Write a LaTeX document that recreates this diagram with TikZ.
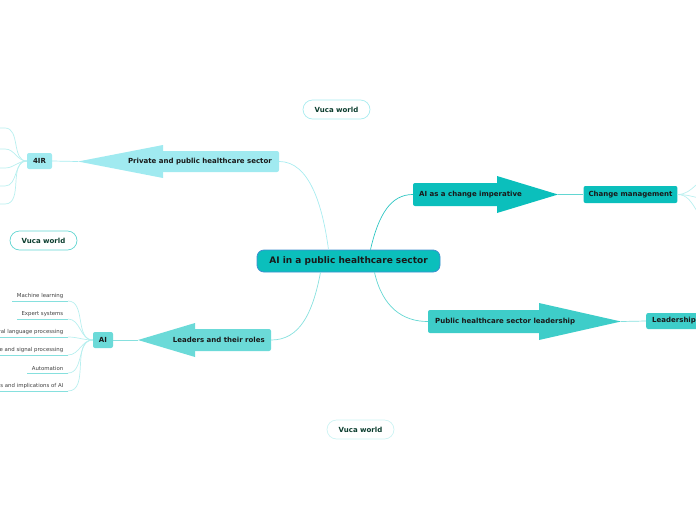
\documentclass[tikz,border=0pt]{standalone}
\usepackage{fontspec}
\setmainfont{DejaVu Sans}
\usetikzlibrary{positioning}

\definecolor{rootfill}{HTML}{0BBFBC}
\definecolor{rootline}{HTML}{3D8FD0}
\definecolor{privfill}{HTML}{A0EAF0}
\definecolor{chgfill}{HTML}{0BBFBC}
\definecolor{pubfill}{HTML}{3ECDC9}
\definecolor{leadfill}{HTML}{6BDAD8}
\definecolor{privline}{HTML}{A8ECF0}
\definecolor{chgline}{HTML}{2EC6C3}
\definecolor{publine}{HTML}{62D6D2}
\definecolor{leadline}{HTML}{86E0DE}
\definecolor{leafline}{HTML}{B8EFEF}
\definecolor{vucatext}{HTML}{0B3D2E}

\begin{document}
\begin{tikzpicture}[x=1pt, y=-1pt,
  topic/.style={draw=rootline, line width=0.8pt, fill=rootfill, rounded corners=7pt, minimum width=183pt, minimum height=22pt, font=\fontsize{9}{10}\selectfont\bfseries, text=black!90},
  abody/.style={rounded corners=2pt, inner sep=0pt},
  atext/.style={inner sep=0pt, font=\fontsize{7}{8}\selectfont\bfseries, text=black!90},
  sbox/.style={rounded corners=2pt, minimum height=16pt, inner xsep=5pt, font=\fontsize{7}{8}\selectfont\bfseries, text=black!90},
  leaf/.style={inner xsep=4.5pt, inner ysep=2pt, anchor=south east, font=\fontsize{5.4}{6.4}\selectfont, text=black!75},
  uline/.style={draw=leadline, line width=0.7pt},
  vuca/.style={draw, line width=0.7pt, fill=white, rounded corners=9.5pt, minimum width=67pt, minimum height=19pt, font=\fontsize{7}{8}\selectfont\bfseries, text=vucatext},
  link/.style={line width=0.7pt}
]
\useasboundingbox (0,0) rectangle (696,520);
\clip (0,0) rectangle (696,520);

% central topic
\node[topic] (root) at (348.5,261) {AI in a public healthcare sector};

% floating topics
\node[vuca, draw=privline] (vuca1) at (336.5,109.5) {Vuca world};
\node[vuca, draw=publine] (vuca2) at (43.5,240.5) {Vuca world};
\node[vuca, draw=leafline!70] (vuca3) at (360.5,429.5) {Vuca world};

% private and public healthcare sector (left arrow)
\node[abody, fill=privfill, minimum width=139pt, minimum height=21pt] (privb) at (209.5,161.5) {};
\coordinate (privt) at (78,161.5);
\fill[privfill] (163,145) -- (163,178) -- (privt) -- cycle;
\node[atext, anchor=east] (priv) at (272,161.5) {Private and public healthcare sector};
\node[sbox, fill=privfill, minimum width=25pt] (fir) at (39.5,161) {4IR};

% AI as a change imperative (right arrow)
\node[abody, fill=chgfill, minimum width=102pt, minimum height=23pt] (chgb) at (464,194.5) {};
\coordinate (chgt) at (558,194.5);
\fill[chgfill] (497,176) -- (497,213) -- (chgt) -- cycle;
\node[atext, anchor=west] (chg) at (419,194.5) {AI as a change imperative};
\node[sbox, fill=chgfill, minimum width=93pt, minimum height=17pt] (cm) at (630.5,194.5) {Change management};

% public healthcare sector leadership (right arrow)
\node[abody, fill=pubfill, minimum width=137pt, minimum height=23pt] (pubb) at (496.5,321.5) {};
\coordinate (pubt) at (621,321.5);
\fill[pubfill] (539,303) -- (539,340) -- (pubt) -- cycle;
\node[atext, anchor=west] (pub) at (435,321.5) {Public healthcare sector leadership};
\node[sbox, fill=pubfill, anchor=west, inner xsep=6pt] (lead) at (646,321) {Leadership};

% leaders and their roles (left arrow)
\node[abody, fill=leadfill, minimum width=91pt, minimum height=22pt] (rolb) at (225.5,340) {};
\coordinate (rolt) at (138,340);
\fill[leadfill] (195,323) -- (195,357) -- (rolt) -- cycle;
\node[atext, anchor=east] (rol) at (265,340) {Leaders and their roles};
\node[sbox, fill=leadfill, minimum width=20pt] (ai) at (103,340) {AI};

% AI subtopics
\node[leaf] (ml) at (68,301) {Machine learning};
\node[leaf] (es) at (68,319) {Expert systems};
\node[leaf] (nlp) at (68,337) {Natural language processing};
\node[leaf] (isp) at (68,355) {Image and signal processing};
\node[leaf] (aut) at (68,373) {Automation};
\node[leaf] (eth) at (68,391) {Ethics and implications of AI};
\draw[uline] (ml.south west) -- (ml.south east);
\draw[uline] (es.south west) -- (es.south east);
\draw[uline] (nlp.south west) -- (nlp.south east);
\draw[uline] (isp.south west) -- (isp.south east);
\draw[uline] (aut.south west) -- (aut.south east);
\draw[uline] (eth.south west) -- (eth.south east);

% main branches
\draw[link, privline] ([xshift=-20pt]root.north) .. controls +(-6,-45) and +(30,0) .. (privb.east);
\draw[link, chgline] ([xshift=22pt]root.north) .. controls +(8,-35) and +(-22,0) .. (chgb.west);
\draw[link, publine] ([xshift=26pt]root.south) .. controls +(8,35) and +(-25,0) .. (pubb.west);
\draw[link, leadline] ([xshift=-28pt]root.south) .. controls +(-8,42) and +(28,0) .. (rolb.east);

% arrow tips to subtopics
\draw[link, privline] (privt) -- (fir.east);
\draw[link, publine] (chgt) -- (cm.west);
\draw[link, leadline] (pubt) -- (lead.west);
\draw[link, leadline] (rolt) -- (ai.east);

% AI leaves
\draw[link, leafline] (ai.west) to[out=180, in=0] (ml.south east);
\draw[link, leafline] (ai.west) to[out=180, in=0] (es.south east);
\draw[link, leafline] (ai.west) to[out=180, in=0] (nlp.south east);
\draw[link, leafline] (ai.west) to[out=180, in=0] (isp.south east);
\draw[link, leafline] (ai.west) to[out=180, in=0] (aut.south east);
\draw[link, leafline] (ai.west) to[out=180, in=0] (eth.south east);

% 4IR leaves (off page)
\coordinate (f1) at (5,128);
\coordinate (f2) at (5,149);
\coordinate (f3) at (5,168);
\coordinate (f4) at (5,186);
\coordinate (f5) at (5,204);
\draw[link, leafline] (fir.west) to[out=180, in=0] (f1) -- ++(-30,0);
\draw[link, leafline] (fir.west) to[out=180, in=0] (f2) -- ++(-30,0);
\draw[link, leafline] (fir.west) to[out=180, in=0] (f3) -- ++(-30,0);
\draw[link, leafline] (fir.west) to[out=180, in=0] (f4) -- ++(-30,0);
\draw[link, leafline] (fir.west) to[out=180, in=0] (f5) -- ++(-30,0);

% change management leaves (off page)
\coordinate (g1) at (714,176);
\coordinate (g2) at (714,200);
\coordinate (g3) at (714,224);
\draw[link, leafline] (cm.east) to[out=0, in=180] (g1);
\draw[link, leafline] (cm.east) to[out=0, in=180] (g2);
\draw[link, leafline] (cm.east) to[out=0, in=180] (g3);
\end{tikzpicture}
\end{document}
